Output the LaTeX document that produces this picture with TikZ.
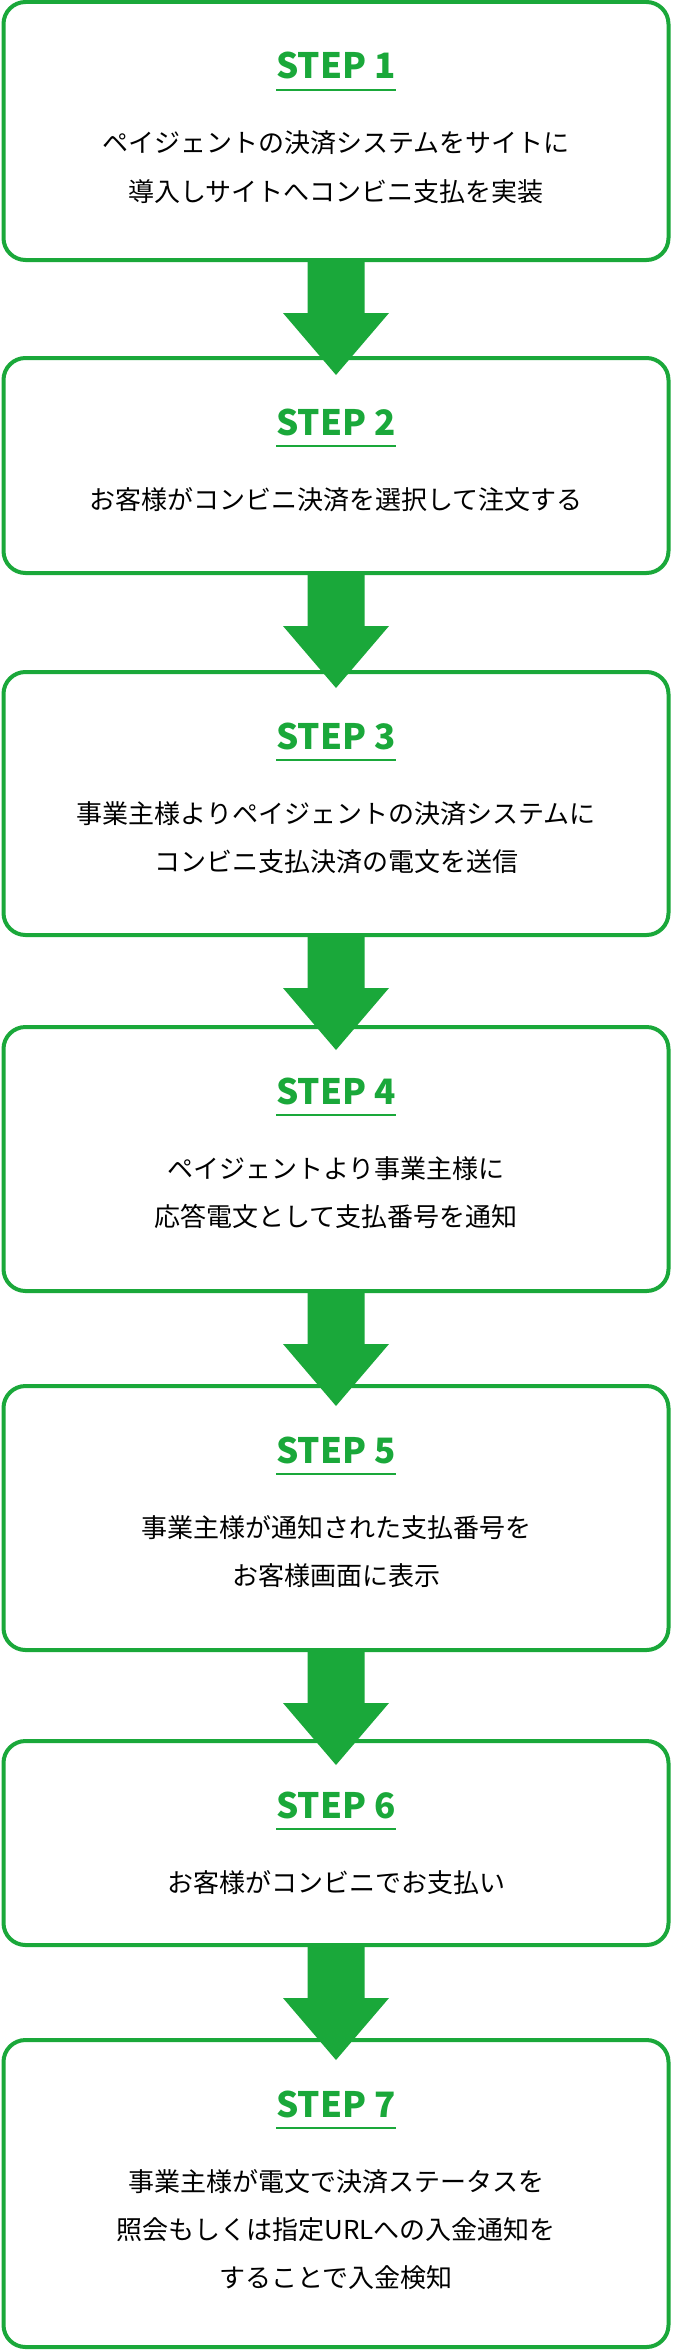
\documentclass[tikz,border=0pt]{standalone}
\usepackage{fontspec}
\newfontfamily\jpfont{Noto Sans CJK JP}
\newfontfamily\stepfont{Noto Sans CJK JP}
\usetikzlibrary{calc}
\definecolor{stepgreen}{RGB}{26,168,58}
\newcommand\flowarrow[1]{%
  \fill[stepgreen] ($(#1.south)+(-28.5,0)$) -- ($(#1.south)+(-28.5,53)$) -- ($(#1.south)+(-53,53)$)
    -- ($(#1.south)+(0,115)$) -- ($(#1.south)+(53,53)$) -- ($(#1.south)+(28.5,53)$)
    -- ($(#1.south)+(28.5,0)$) -- cycle;}
\begin{document}
\begin{tikzpicture}[x=1pt,y=-1pt,
  box/.style={draw=stepgreen, line width=4pt, rounded corners=22pt, fill=white,
    minimum width=665pt, inner sep=0pt, outer sep=0pt, anchor=north},
  title/.style={font=\stepfont\bfseries\fontsize{35}{35}\selectfont, text=stepgreen, anchor=base, inner sep=0pt},
  body/.style={font=\jpfont\fontsize{26}{26}\selectfont, text=black, anchor=base, inner sep=0pt},
  uline/.style={draw=stepgreen, line width=2.5pt}]
\useasboundingbox[fill=white] (0,0) rectangle (672,2352);
% boxes
\node[box, minimum height=258pt] (b1) at (336,2) {};
\node[box, minimum height=215pt] (b2) at (336,358) {};
\node[box, minimum height=263pt] (b3) at (336,672) {};
\node[box, minimum height=264pt] (b4) at (336,1027) {};
\node[box, minimum height=264pt] (b5) at (336,1386) {};
\node[box, minimum height=204pt] (b6) at (336,1741) {};
\node[box, minimum height=307pt] (b7) at (336,2040) {};
% arrows
\flowarrow{b1}
\flowarrow{b2}
\flowarrow{b3}
\flowarrow{b4}
\flowarrow{b5}
\flowarrow{b6}
% step 1
\node[title] (t1) at ($(b1.north)+(0,77)$) {STEP 1};
\draw[uline] ($(b1.north)+(-60,88)$) -- ($(b1.north)+(60,88)$);
\node[body] (s1a) at ($(b1.north)+(0,151)$) {ペイジェントの決済システムをサイトに};
\node[body] (s1b) at ($(b1.north)+(0,199)$) {導入しサイトへコンビニ支払を実装};
% step 2
\node[title] (t2) at ($(b2.north)+(0,77)$) {STEP 2};
\draw[uline] ($(b2.north)+(-60,88)$) -- ($(b2.north)+(60,88)$);
\node[body] (s2a) at ($(b2.north)+(0,151)$) {お客様がコンビニ決済を選択して注文する};
% step 3
\node[title] (t3) at ($(b3.north)+(0,77)$) {STEP 3};
\draw[uline] ($(b3.north)+(-60,88)$) -- ($(b3.north)+(60,88)$);
\node[body] (s3a) at ($(b3.north)+(0,151)$) {事業主様よりペイジェントの決済システムに};
\node[body] (s3b) at ($(b3.north)+(0,199)$) {コンビニ支払決済の電文を送信};
% step 4
\node[title] (t4) at ($(b4.north)+(0,77)$) {STEP 4};
\draw[uline] ($(b4.north)+(-60,88)$) -- ($(b4.north)+(60,88)$);
\node[body] (s4a) at ($(b4.north)+(0,151)$) {ペイジェントより事業主様に};
\node[body] (s4b) at ($(b4.north)+(0,199)$) {応答電文として支払番号を通知};
% step 5
\node[title] (t5) at ($(b5.north)+(0,77)$) {STEP 5};
\draw[uline] ($(b5.north)+(-60,88)$) -- ($(b5.north)+(60,88)$);
\node[body] (s5a) at ($(b5.north)+(0,151)$) {事業主様が通知された支払番号を};
\node[body] (s5b) at ($(b5.north)+(0,199)$) {お客様画面に表示};
% step 6
\node[title] (t6) at ($(b6.north)+(0,77)$) {STEP 6};
\draw[uline] ($(b6.north)+(-60,88)$) -- ($(b6.north)+(60,88)$);
\node[body] (s6a) at ($(b6.north)+(0,151)$) {お客様がコンビニでお支払い};
% step 7
\node[title] (t7) at ($(b7.north)+(0,77)$) {STEP 7};
\draw[uline] ($(b7.north)+(-60,88)$) -- ($(b7.north)+(60,88)$);
\node[body] (s7a) at ($(b7.north)+(0,151)$) {事業主様が電文で決済ステータスを};
\node[body] (s7b) at ($(b7.north)+(0,199)$) {照会もしくは指定URLへの入金通知を};
\node[body] (s7c) at ($(b7.north)+(0,247)$) {することで入金検知};
\end{tikzpicture}
\end{document}
